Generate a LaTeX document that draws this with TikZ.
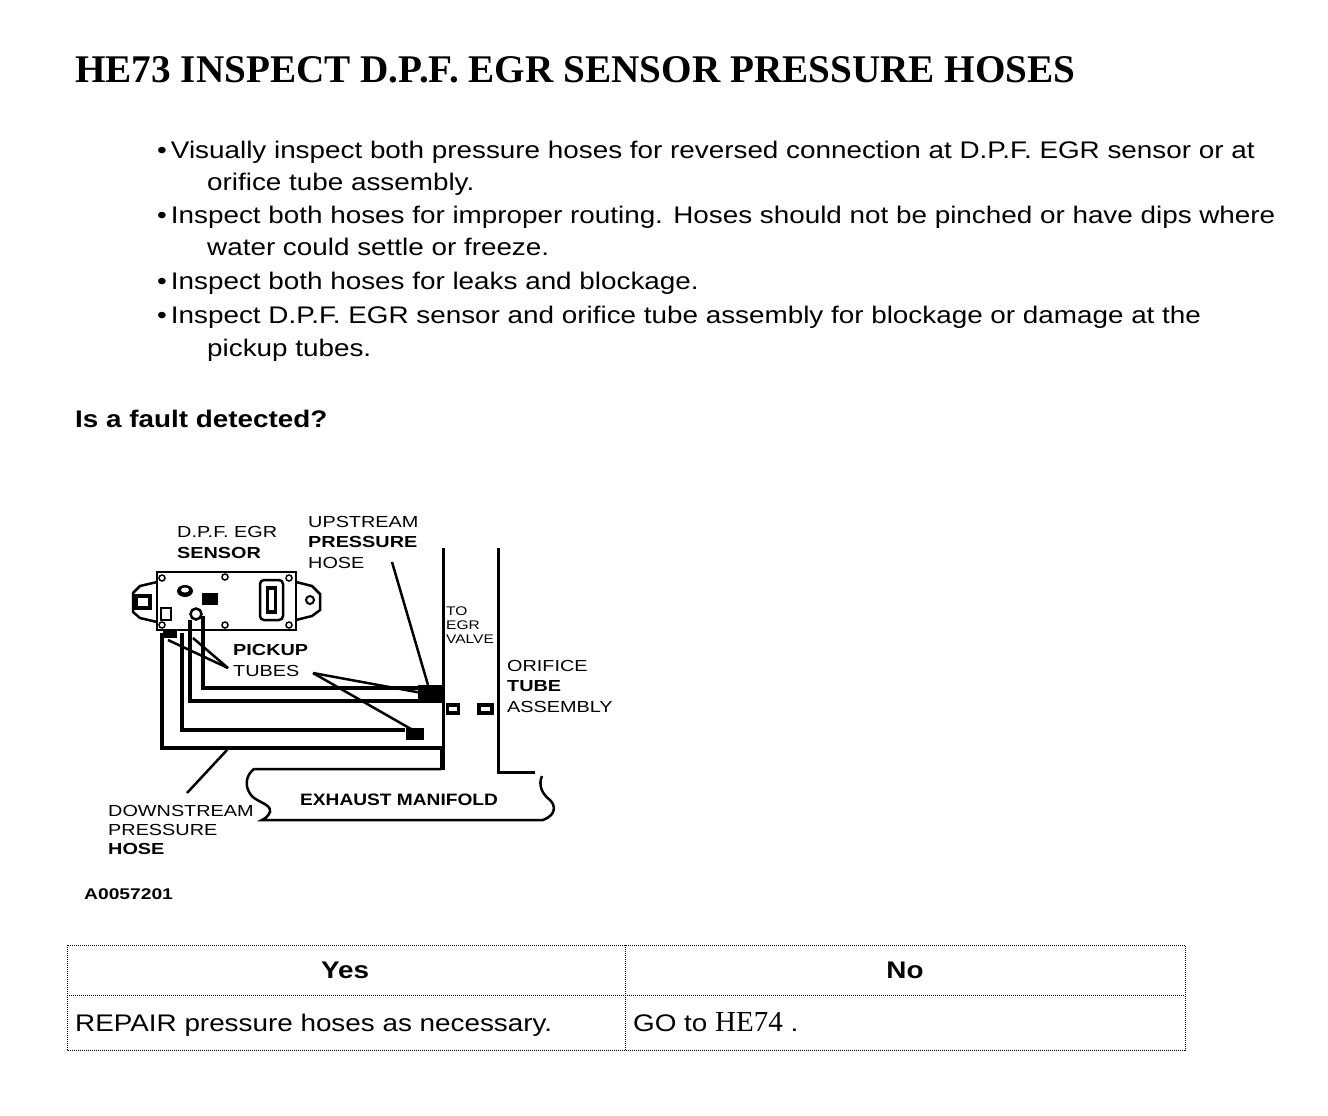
\documentclass[tikz,border=0pt]{standalone}
\usepackage{fontspec}
\setmainfont{Liberation Sans}[FakeStretch=1.16]
\newfontfamily\headfont{Liberation Serif}
\newfontfamily\figfont[FakeStretch=1.24]{Liberation Sans}

\begin{document}
\begin{tikzpicture}[x=1pt,y=-1pt,
  txt/.style={anchor=base west,inner sep=0pt,font=\fontsize{24}{28}\selectfont},
  lbl/.style={anchor=base west,inner sep=0pt,font=\figfont\fontsize{16}{20.5}\selectfont},
  small/.style={anchor=base west,inner sep=0pt,font=\figfont\fontsize{12.5}{14}\selectfont},
  hose/.style={line width=3.5pt},
  lead/.style={line width=2.5pt},
  cell/.style={densely dotted,line width=1pt}]
\useasboundingbox (0,0) rectangle (1328,1116);
\fill[white] (0,0) rectangle (1328,1116);

% heading and checks
\node[anchor=base west,inner sep=0pt,font=\headfont\bfseries\fontsize{39.2}{44}\selectfont] (title) at (75,82) {HE73 INSPECT D.P.F. EGR SENSOR PRESSURE HOSES};
\node[txt] (b1) at (157,158) {\textbullet\,Visually inspect both pressure hoses for reversed connection at D.P.F. EGR sensor or at};
\node[txt] (b1a) at (207,190) {orifice tube assembly.};
\node[txt] (b2) at (157,223) {\textbullet\,Inspect both hoses for improper routing. Hoses should not be pinched or have dips where};
\node[txt] (b2a) at (207,255) {water could settle or freeze.};
\node[txt] (b3) at (157,289) {\textbullet\,Inspect both hoses for leaks and blockage.};
\node[txt] (b4) at (157,323) {\textbullet\,Inspect D.P.F. EGR sensor and orifice tube assembly for blockage or damage at the};
\node[txt] (b4a) at (207,356) {pickup tubes.};
\node[anchor=base west,inner sep=0pt,font=\bfseries\fontsize{24}{28}\selectfont] (ask) at (75,427) {Is a fault detected?};

% sensor body
\draw[line width=2.5pt] (157,572) rectangle (296,630);
\draw[line width=2.5pt] (157,582) -- (140,586) -- (133,593) -- (133,612) -- (140,618) -- (157,622);
\fill (134,594) rectangle (152,610);
\fill[white] (138,598) rectangle (148,606);
\draw[line width=2.5pt] (296,582) -- (312,586) -- (320,594) -- (320,610) -- (312,616) -- (296,620);
\draw[line width=2pt] (310,600) circle (4);
\foreach \cx/\cy in {162/578,225/577,289/578,162/625,225/625,289/625}
  \draw[line width=1.5pt] (\cx,\cy) circle (3);
\fill (185,591) ellipse (8 and 6);
\fill[white] (185,590) ellipse (4 and 2.5);
\fill (202,593) rectangle (218,605);
\draw[line width=2pt] (161,608) rectangle (171,620);
\draw[line width=2.5pt] (196,614) circle (5.5);
\draw[line width=2.5pt,rounded corners=4pt] (260,580) rectangle (283,620);
\fill (266,586) rectangle (277,614);
\fill[white] (269,590) rectangle (274,610);

% pickup tubes and hoses
\fill (163,631) rectangle (177,638);
\draw[hose] (203,616) -- (203,688) -- (443,688);
\draw[hose] (190,620) -- (190,701) -- (443,701);
\draw[hose] (182,633) -- (182,730) -- (405,730);
\draw[hose] (162,633) -- (162,748) -- (443,748);
\fill (418,685) rectangle (442,699);
\fill (406,728) rectangle (424,740);
\draw[lead] (441,748) -- (441,770);

% orifice tube assembly
\draw[line width=3pt] (443,548) -- (443,770);
\draw[line width=3pt] (498,548) -- (498,772) -- (535,772);
\fill (446,703) rectangle (460,715);
\fill (477,703) rectangle (494,715);
\fill[white] (449,707) rectangle (457,711);
\fill[white] (481,707) rectangle (490,711);

% exhaust manifold
\draw[line width=2.5pt] (441,769) -- (254,769) .. controls (246,775) and (244,786) .. (251,795)
  .. controls (256,802) and (272,804) .. (270,812) .. controls (268,817) and (264,819) .. (262,820)
  -- (543,820) .. controls (556,815) and (556,806) .. (550,800)
  .. controls (542,794) and (538,785) .. (542,776);
\node[anchor=base west,inner sep=0pt,font=\bfseries\fontsize{16.5}{20}\selectfont] (exm) at (300,805) {EXHAUST MANIFOLD};

% labels (base = last line)
\node[lbl,align=left] (sens) at (177,558) {D.P.F. EGR\\\textbf{SENSOR}};
\node[lbl,align=left] (ups) at (308,568) {UPSTREAM\\\textbf{PRESSURE}\\HOSE};
\node[small,align=left] (egr) at (446,643) {TO\\EGR\\VALVE};
\node[lbl,align=left] (pick) at (233,676) {\textbf{PICKUP}\\TUBES};
\node[lbl,align=left] (orif) at (507,712) {ORIFICE\\\textbf{TUBE}\\ASSEMBLY};
\node[lbl,align=left,font=\figfont\fontsize{16}{19}\selectfont] (dwn) at (108,854) {DOWNSTREAM\\PRESSURE\\\textbf{HOSE}};
\node[lbl,font=\figfont\bfseries\fontsize{15.5}{18}\selectfont] (fig) at (84,899) {A0057201};

% leaders
\coordinate (upsend) at (428,685);
\coordinate (pk1) at (168,640);
\coordinate (pk2) at (193,638);
\coordinate (pk3) at (422,693);
\coordinate (pk4) at (418,733);
\coordinate (dwnend) at (227,750);
\draw[lead] (392,562) -- (upsend);
\draw[lead] (228,668) -- (pk1);
\draw[lead] (228,668) -- (pk2);
\draw[lead] (313,673) -- (pk3);
\draw[lead] (313,673) -- (pk4);
\draw[lead] (187,793) -- (dwnend);

% result table
\draw[cell] (67,945) rectangle (1185,1050);
\draw[cell] (67,995) -- (1185,995);
\draw[cell] (625,945) -- (625,1050);
\node[anchor=base,inner sep=0pt,font=\bfseries\fontsize{24}{28}\selectfont] (yes) at (345,978) {Yes};
\node[anchor=base,inner sep=0pt,font=\bfseries\fontsize{24}{28}\selectfont] (no) at (905,978) {No};
\node[txt] (rep) at (75,1031) {REPAIR pressure hoses as necessary.};
\node[txt] (go) at (633,1031) {GO to {\headfont\fontsize{29}{32}\selectfont HE74} .};
\end{tikzpicture}
\end{document}
